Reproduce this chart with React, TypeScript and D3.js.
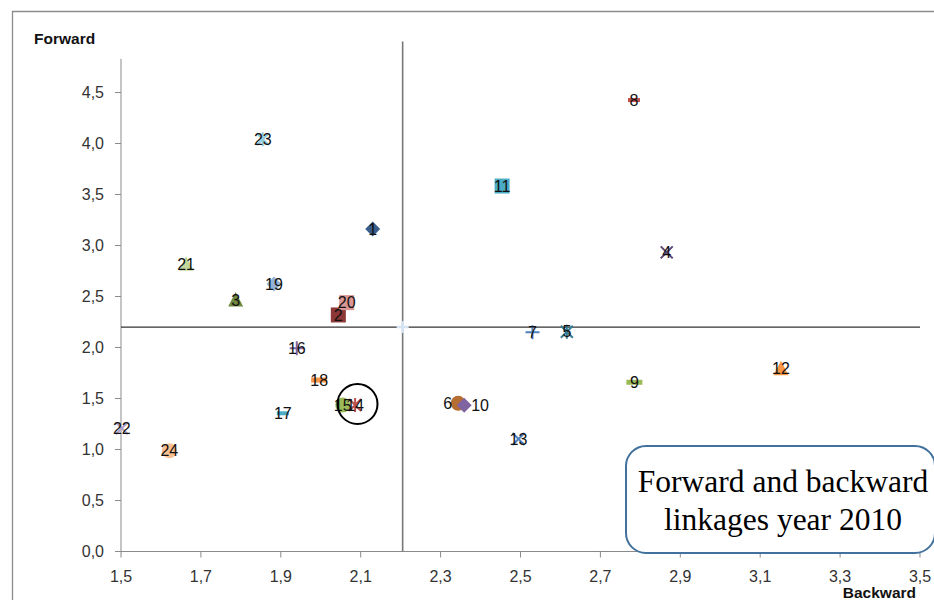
import React from "react";
import * as d3 from "d3";

// ---- data ----
const sectors = ["1","2","3","4","5","6","7","8","9","10","11","12","13","14","15","16","17","18","19","20","21","22","23","24"];
const backward = [2.130,2.044,1.787,2.866,2.616,2.344,2.530,2.784,2.785,2.359,2.454,3.152,2.495,2.086,2.055,1.940,1.905,1.996,1.883,2.065,1.663,1.502,1.855,1.621];
const forward = [3.162,2.319,2.466,2.933,2.155,1.453,2.149,4.426,1.659,1.433,3.583,1.792,1.103,1.436,1.436,1.992,1.355,1.681,2.623,2.440,2.816,1.208,4.041,0.988];
const xTicks = [1.5,1.7,1.9,2.1,2.3,2.5,2.7,2.9,3.1,3.3,3.5];
const yTicks = [0,0.5,1,1.5,2,2.5,3,3.5,4,4.5];
const meanBackward = 2.205;
const meanForward = 2.2;
const highlight = { x: 2.092, y: 1.446 };

// marker style cycle (Excel style)
const shapes = ["diamond","square","triangle","x","star","circle","plus","dot","dash"];
const colors = ["#385D8A","#8C3836","#71893F","#5C4776","#357D91","#B66D31","#4F81BD","#C0504D","#9BBB59","#8064A2","#4BACC6","#F79646","#4F81BD","#C0504D","#9BBB59","#8064A2","#4BACC6","#F79646","#95B3D7","#D99694","#C3D69B","#B3A2C7","#93CDDD","#FAC090"];

const W = 934, H = 600;
const x = d3.scaleLinear().domain([1.5, 3.5]).range([121, 920]);
const y = d3.scaleLinear().domain([0, 5]).range([551.5, 41.5]);

function Marker({ shape, cx, cy, color }: { shape: string; cx: number; cy: number; color: string }) {
  const s = 7.5;
  switch (shape) {
    case "diamond":
      return <path d={`M${cx},${cy - s}L${cx + s},${cy}L${cx},${cy + s}L${cx - s},${cy}Z`} fill={color} />;
    case "square":
      return <rect x={cx - 7.5} y={cy - 7.5} width={15} height={15} fill={color} />;
    case "triangle":
      return <path d={`M${cx},${cy - 8}L${cx + 7.5},${cy + 6.5}L${cx - 7.5},${cy + 6.5}Z`} fill={color} />;
    case "x":
      return <path d={`M${cx - 6},${cy - 6}L${cx + 6},${cy + 6}M${cx + 6},${cy - 6}L${cx - 6},${cy + 6}`} stroke={color} strokeWidth={2} />;
    case "star":
      return <path d={`M${cx - 6},${cy - 6}L${cx + 6},${cy + 6}M${cx + 6},${cy - 6}L${cx - 6},${cy + 6}M${cx},${cy - 7}L${cx},${cy + 7}`} stroke={color} strokeWidth={2} />;
    case "circle":
      return <circle cx={cx} cy={cy} r={7.5} fill={color} />;
    case "plus":
      return <path d={`M${cx - 7},${cy}L${cx + 7},${cy}M${cx},${cy - 7}L${cx},${cy + 7}`} stroke={color} strokeWidth={2} />;
    case "dot":
      return <rect x={cx - 6} y={cy - 2} width={12} height={4} fill={color} />;
    default:
      return <rect x={cx - 8} y={cy - 2.5} width={16} height={5} fill={color} />;
  }
}

const labelPlace: Record<string, { anchor: string; dx: number }> = {
  "6": { anchor: "end", dx: -6 },
  "10": { anchor: "start", dx: 7 },
};

export default function App() {
  const font = "'Liberation Sans', Arial, sans-serif";
  const serif = "'Liberation Serif', 'Times New Roman', serif";
  return (
    <svg width={W} height={H} style={{ position: "absolute", left: 0, top: 0, background: "#fff" }}>
      <rect x={0} y={0} width={W} height={H} fill="#fff" />
      {/* chart area border */}
      <path d={`M12.5,${H}L12.5,11.5L${W},11.5`} fill="none" stroke="#8c8c8c" strokeWidth={1.3} />

      {/* axes */}
      <line x1={x(1.5)} x2={x(1.5)} y1={y(0)} y2={y(4.83)} stroke="#8a8a8a" strokeWidth={1} />
      <line x1={x(1.5)} x2={x(3.5)} y1={y(0)} y2={y(0)} stroke="#8a8a8a" strokeWidth={1} />
      {yTicks.map((t) => (
        <g key={"y" + t}>
          <line x1={x(1.5) - 6} x2={x(1.5)} y1={y(t)} y2={y(t)} stroke="#8a8a8a" />
          <text x={104} y={y(t)} dy="0.35em" textAnchor="end" fontFamily={font} fontSize={16} fill="#333">
            {d3.format(".1f")(t).replace(".", ",")}
          </text>
        </g>
      ))}
      {xTicks.map((t) => (
        <g key={"x" + t}>
          <line x1={x(t)} x2={x(t)} y1={y(0)} y2={y(0) + 6} stroke="#8a8a8a" />
          <text x={x(t)} y={582} textAnchor="middle" fontFamily={font} fontSize={16} fill="#333">
            {d3.format(".1f")(t).replace(".", ",")}
          </text>
        </g>
      ))}
      <text x={34} y={44} fontFamily={font} fontWeight="bold" fontSize={15.5} fill="#111">Forward</text>
      <text x={916} y={598} textAnchor="end" fontFamily={font} fontWeight="bold" fontSize={15.5} fill="#111">Backward</text>

      {/* mean lines */}
      <line x1={x(1.5)} x2={x(3.5)} y1={y(meanForward)} y2={y(meanForward)} stroke="#333" strokeWidth={1.3} />
      <line x1={x(meanBackward)} x2={x(meanBackward)} y1={y(0)} y2={y(5)} stroke="#777" strokeWidth={1.6} />
      <path
        d={`M${x(meanBackward) - 6},${y(meanForward)}L${x(meanBackward) + 6},${y(meanForward)}M${x(meanBackward)},${y(meanForward) - 6}L${x(meanBackward)},${y(meanForward) + 6}`}
        stroke="#D6E3F3" strokeWidth={2.5}
      />

      {/* points */}
      {sectors.map((s, i) => (
        <Marker key={"m" + s} shape={shapes[i % shapes.length]} cx={x(backward[i])} cy={y(forward[i])} color={colors[i]} />
      ))}
      {sectors.map((s, i) => {
        const p = labelPlace[s] || { anchor: "middle", dx: 0 };
        return (
          <text key={"l" + s} x={x(backward[i]) + p.dx} y={y(forward[i])} dy="0.36em" textAnchor={p.anchor}
            fontFamily={font} fontSize={16} fill="#111">{s}</text>
        );
      })}

      {/* highlight circle */}
      <circle cx={x(highlight.x)} cy={y(highlight.y)} r={20} fill="none" stroke="#000" strokeWidth={2} />

      {/* title box */}
      <rect x={626} y={446} width={309} height={107} rx={20} ry={20} fill="#fff" stroke="#41719C" strokeWidth={2} />
      <text x={783} y={492} textAnchor="middle" fontFamily={serif} fontSize={31.5} fill="#000">Forward and backward</text>
      <text x={783} y={530} textAnchor="middle" fontFamily={serif} fontSize={31.5} fill="#000">linkages year 2010</text>
    </svg>
  );
}
